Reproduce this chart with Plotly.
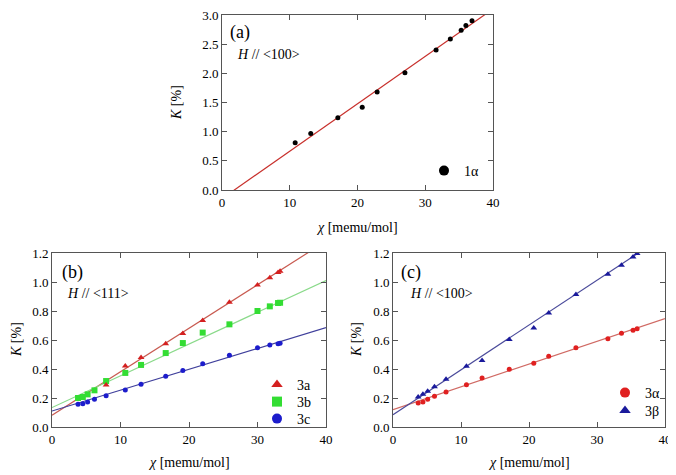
import plotly.graph_objects as go

# ---- data ----
# (a) H // <100>
chi_a = [10.8, 13.1, 17.1, 20.7, 22.9, 27.0, 31.6, 33.7, 35.3, 36.0, 36.9]
K_1alpha = [0.81, 0.97, 1.24, 1.42, 1.68, 2.01, 2.40, 2.59, 2.74, 2.82, 2.90]
fit_1alpha = (0.0813, -0.148)  # slope, intercept

# (b) H // <111>
chi_3a = [7.9, 10.7, 13.0, 16.6, 19.1, 22.0, 25.9, 30.0, 31.8, 33.0, 33.3]
K_3a = [0.29, 0.42, 0.48, 0.575, 0.645, 0.735, 0.86, 0.98, 1.03, 1.065, 1.075]
chi_b = [3.8, 4.5, 5.2, 6.2, 7.9, 10.7, 13.0, 16.6, 19.1, 22.0, 25.9, 30.0, 31.8, 33.0, 33.3]
K_3b = [0.20, 0.207, 0.225, 0.253, 0.317, 0.373, 0.428, 0.51, 0.579, 0.651, 0.708, 0.80, 0.832, 0.855, 0.857]
K_3c = [0.157, 0.161, 0.173, 0.191, 0.216, 0.255, 0.294, 0.35, 0.39, 0.437, 0.494, 0.547, 0.566, 0.575, 0.577]
fit_3a = (0.0300, 0.081)
fit_3b = (0.0219, 0.134)
fit_3c = (0.01438, 0.110)

# (c) H // <100>
chi_c = [3.7, 4.4, 5.1, 6.1, 7.8, 10.8, 13.1, 17.1, 20.7, 22.9, 26.9, 31.6, 33.6, 35.3, 35.9]
K_3alpha = [0.166, 0.173, 0.191, 0.212, 0.242, 0.292, 0.338, 0.398, 0.439, 0.488, 0.547, 0.609, 0.646, 0.667, 0.678]
K_3beta = [0.207, 0.226, 0.246, 0.278, 0.329, 0.419, 0.458, 0.603, 0.683, 0.786, 0.913, 1.053, 1.115, 1.173, 1.196]
fit_3alpha = (0.01568, 0.120)
fit_3beta = (0.0309, 0.085)

chi_range = [0, 40]

# the page body has an 8px margin, so the figure is drawn 8px smaller
# and all layout positions below are given in window pixels
OFF = 8
W, H = 676 - OFF, 475 - OFF
FONT = "Liberation Serif, Times New Roman, serif"


def px(x):
    return (x - OFF) / W


def py(y):
    return 1 - (y - OFF) / H


def fit_line(fit, color, xa, ya):
    slope, icpt = fit
    return go.Scatter(
        x=chi_range,
        y=[icpt + slope * c for c in chi_range],
        mode="lines",
        line=dict(color=color, width=1.2),
        xaxis=xa,
        yaxis=ya,
        showlegend=False,
        hoverinfo="skip",
    )


def pts(x, y, symbol, color, size, xa, ya):
    return go.Scatter(
        x=x, y=y, mode="markers",
        marker=dict(symbol=symbol, color=color, size=size, line=dict(width=0)),
        xaxis=xa, yaxis=ya, showlegend=False,
    )


def legend_entry(name, symbol, color, xa, ya, legend):
    # legend-only trace, so the key marker can be bigger than the data markers
    return go.Scatter(
        x=[None], y=[None], mode="markers", name=name,
        marker=dict(symbol=symbol, color=color, size=10, line=dict(width=0)),
        xaxis=xa, yaxis=ya, legend=legend,
    )


fig = go.Figure()

# (a)
fig.add_trace(fit_line(fit_1alpha, "#c8302c", "x", "y"))
fig.add_trace(pts(chi_a, K_1alpha, "circle", "black", 5, "x", "y"))
fig.add_trace(legend_entry("1α", "circle", "black", "x", "y", "legend"))

# (b)
fig.add_trace(fit_line(fit_3a, "#c85a50", "x2", "y2"))
fig.add_trace(fit_line(fit_3b, "#8ada8a", "x2", "y2"))
fig.add_trace(fit_line(fit_3c, "#40409c", "x2", "y2"))
fig.add_trace(pts(chi_b, K_3b, "square", "#33dd33", 6, "x2", "y2"))
fig.add_trace(pts(chi_3a, K_3a, "triangle-up", "#d42020", 6, "x2", "y2"))
fig.add_trace(pts(chi_b, K_3c, "circle", "#1c1ccc", 5, "x2", "y2"))
fig.add_trace(legend_entry("3a", "triangle-up", "#d42020", "x2", "y2", "legend2"))
fig.add_trace(legend_entry("3b", "square", "#33dd33", "x2", "y2", "legend3"))
fig.add_trace(legend_entry("3c", "circle", "#1c1ccc", "x2", "y2", "legend4"))

# (c)
fig.add_trace(fit_line(fit_3alpha, "#d06a64", "x3", "y3"))
fig.add_trace(fit_line(fit_3beta, "#4a4a9a", "x3", "y3"))
fig.add_trace(pts(chi_c, K_3alpha, "circle", "#e02020", 5, "x3", "y3"))
fig.add_trace(pts(chi_c, K_3beta, "triangle-up", "#1a1a9c", 6, "x3", "y3"))
fig.add_trace(legend_entry("3α", "circle", "#e02020", "x3", "y3", "legend5"))
fig.add_trace(legend_entry("3β", "triangle-up", "#1a1a9c", "x3", "y3", "legend6"))

axis_style = dict(
    showgrid=False, zeroline=False, showline=True, linecolor="#555", linewidth=1,
    mirror="ticks", ticks="inside", ticklen=5, tickcolor="#555", automargin=False,
    ticklabeloverflow="allow",
    tickfont=dict(family=FONT, size=13, color="black"),
)


def key(x, y):
    # one legend box per key entry, centred on the marker position (pixels)
    return dict(x=px(x - 20), y=py(y), xanchor="left", yanchor="middle",
                bgcolor="rgba(0,0,0,0)", borderwidth=0, itemwidth=30,
                font=dict(family=FONT, size=14, color="black"))


fig.update_layout(
    width=W, height=H,
    margin=dict(l=0, r=0, t=0, b=0, autoexpand=False),
    paper_bgcolor="white", plot_bgcolor="white",
    font=dict(family=FONT, size=13, color="black"),
    xaxis=dict(domain=[px(222), px(493)], range=chi_range, dtick=10, anchor="y", **axis_style),
    yaxis=dict(domain=[py(190), py(15)], range=[0, 3], dtick=0.5, tickformat=".1f", anchor="x", **axis_style),
    xaxis2=dict(domain=[px(52), px(326)], range=chi_range, dtick=10, anchor="y2", **axis_style),
    yaxis2=dict(domain=[py(427), py(253)], range=[0, 1.2], dtick=0.2, tickformat=".1f", anchor="x2", **axis_style),
    xaxis3=dict(domain=[px(393), px(665)], range=chi_range, dtick=10, anchor="y3", **axis_style),
    yaxis3=dict(domain=[py(427), py(253)], range=[0, 1.2], dtick=0.2, tickformat=".1f", anchor="x3", **axis_style),
    legend=key(444, 171),
    legend2=key(277, 385),
    legend3=key(277, 402),
    legend4=key(277, 419),
    legend5=key(625, 393),
    legend6=key(625, 411),
)

ann = []


def text(x, y, s, size=14, xanchor="left", angle=0):
    ann.append(dict(x=px(x), y=py(y), xref="paper", yref="paper", text=s, showarrow=False,
                    xanchor=xanchor, yanchor="middle", textangle=angle,
                    font=dict(family=FONT, size=size, color="black")))


# panel labels and field direction
text(240, 33, "(a)", 18, "center")
text(235, 55, "<i>H</i> // &lt;100&gt;")
text(72, 272, "(b)", 18, "center")
text(65, 293, "<i>H</i> // &lt;111&gt;")
text(411, 272, "(c)", 18, "center")
text(408, 293, "<i>H</i> // &lt;100&gt;")

# axis titles
text(357, 227, "<i>χ</i> [memu/mol]", 14, "center")
text(189, 462, "<i>χ</i> [memu/mol]", 14, "center")
text(529, 462, "<i>χ</i> [memu/mol]", 14, "center")
text(177, 103, "<i>K</i> [%]", 14, "center", -90)
text(16, 340, "<i>K</i> [%]", 14, "center", -90)
text(356, 340, "<i>K</i> [%]", 14, "center", -90)

fig.update_layout(annotations=ann)

fig.write_html("out.html")
